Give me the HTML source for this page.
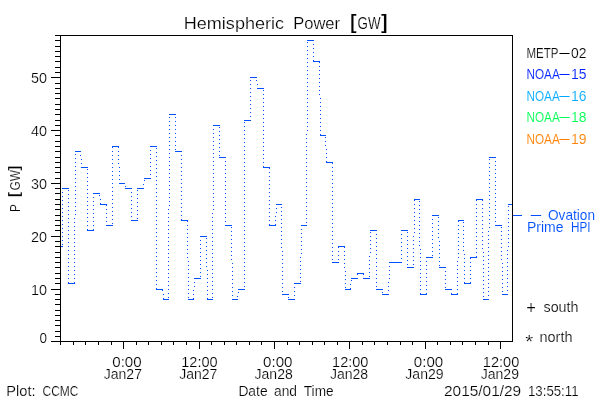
<!DOCTYPE html>
<html><head><meta charset="utf-8"><title>Hemispheric Power [GW]</title>
<style>
html,body{margin:0;padding:0;background:#fff;}
svg{display:block;will-change:transform;}
text{font-family:"Liberation Sans",sans-serif;stroke:#fff;stroke-width:0.2px;}
</style></head><body>
<svg width="600" height="400" viewBox="0 0 600 400" shape-rendering="crispEdges">
<rect x="0" y="0" width="600" height="400" fill="#fff"/>
<rect x="60" y="35" width="1" height="307" fill="#000"/>
<rect x="512" y="35" width="1" height="307" fill="#000"/>
<rect x="60" y="35" width="453" height="1" fill="#000"/>
<rect x="60" y="341" width="453" height="1" fill="#000"/>
<rect x="51" y="341" width="10" height="1" fill="#000"/>
<rect x="55" y="336" width="6" height="1" fill="#000"/>
<rect x="55" y="331" width="6" height="1" fill="#000"/>
<rect x="55" y="325" width="6" height="1" fill="#000"/>
<rect x="55" y="320" width="6" height="1" fill="#000"/>
<rect x="55" y="315" width="6" height="1" fill="#000"/>
<rect x="55" y="310" width="6" height="1" fill="#000"/>
<rect x="55" y="304" width="6" height="1" fill="#000"/>
<rect x="55" y="299" width="6" height="1" fill="#000"/>
<rect x="55" y="294" width="6" height="1" fill="#000"/>
<rect x="51" y="289" width="10" height="1" fill="#000"/>
<rect x="55" y="283" width="6" height="1" fill="#000"/>
<rect x="55" y="278" width="6" height="1" fill="#000"/>
<rect x="55" y="273" width="6" height="1" fill="#000"/>
<rect x="55" y="267" width="6" height="1" fill="#000"/>
<rect x="55" y="262" width="6" height="1" fill="#000"/>
<rect x="55" y="257" width="6" height="1" fill="#000"/>
<rect x="55" y="252" width="6" height="1" fill="#000"/>
<rect x="55" y="246" width="6" height="1" fill="#000"/>
<rect x="55" y="241" width="6" height="1" fill="#000"/>
<rect x="51" y="236" width="10" height="1" fill="#000"/>
<rect x="55" y="230" width="6" height="1" fill="#000"/>
<rect x="55" y="225" width="6" height="1" fill="#000"/>
<rect x="55" y="220" width="6" height="1" fill="#000"/>
<rect x="55" y="215" width="6" height="1" fill="#000"/>
<rect x="55" y="209" width="6" height="1" fill="#000"/>
<rect x="55" y="204" width="6" height="1" fill="#000"/>
<rect x="55" y="199" width="6" height="1" fill="#000"/>
<rect x="55" y="193" width="6" height="1" fill="#000"/>
<rect x="55" y="188" width="6" height="1" fill="#000"/>
<rect x="51" y="183" width="10" height="1" fill="#000"/>
<rect x="55" y="178" width="6" height="1" fill="#000"/>
<rect x="55" y="172" width="6" height="1" fill="#000"/>
<rect x="55" y="167" width="6" height="1" fill="#000"/>
<rect x="55" y="162" width="6" height="1" fill="#000"/>
<rect x="55" y="157" width="6" height="1" fill="#000"/>
<rect x="55" y="151" width="6" height="1" fill="#000"/>
<rect x="55" y="146" width="6" height="1" fill="#000"/>
<rect x="55" y="141" width="6" height="1" fill="#000"/>
<rect x="55" y="135" width="6" height="1" fill="#000"/>
<rect x="51" y="130" width="10" height="1" fill="#000"/>
<rect x="55" y="125" width="6" height="1" fill="#000"/>
<rect x="55" y="120" width="6" height="1" fill="#000"/>
<rect x="55" y="114" width="6" height="1" fill="#000"/>
<rect x="55" y="109" width="6" height="1" fill="#000"/>
<rect x="55" y="104" width="6" height="1" fill="#000"/>
<rect x="55" y="98" width="6" height="1" fill="#000"/>
<rect x="55" y="93" width="6" height="1" fill="#000"/>
<rect x="55" y="88" width="6" height="1" fill="#000"/>
<rect x="55" y="83" width="6" height="1" fill="#000"/>
<rect x="51" y="77" width="10" height="1" fill="#000"/>
<rect x="55" y="72" width="6" height="1" fill="#000"/>
<rect x="55" y="67" width="6" height="1" fill="#000"/>
<rect x="55" y="61" width="6" height="1" fill="#000"/>
<rect x="55" y="56" width="6" height="1" fill="#000"/>
<rect x="55" y="51" width="6" height="1" fill="#000"/>
<rect x="55" y="46" width="6" height="1" fill="#000"/>
<rect x="55" y="40" width="6" height="1" fill="#000"/>
<rect x="55" y="35" width="6" height="1" fill="#000"/>
<rect x="60" y="341" width="1" height="4" fill="#000"/>
<rect x="73" y="341" width="1" height="4" fill="#000"/>
<rect x="85" y="341" width="1" height="4" fill="#000"/>
<rect x="98" y="341" width="1" height="4" fill="#000"/>
<rect x="111" y="341" width="1" height="4" fill="#000"/>
<rect x="123" y="341" width="1" height="8" fill="#000"/>
<rect x="136" y="341" width="1" height="4" fill="#000"/>
<rect x="148" y="341" width="1" height="4" fill="#000"/>
<rect x="161" y="341" width="1" height="4" fill="#000"/>
<rect x="173" y="341" width="1" height="4" fill="#000"/>
<rect x="186" y="341" width="1" height="4" fill="#000"/>
<rect x="199" y="341" width="1" height="8" fill="#000"/>
<rect x="211" y="341" width="1" height="4" fill="#000"/>
<rect x="224" y="341" width="1" height="4" fill="#000"/>
<rect x="236" y="341" width="1" height="4" fill="#000"/>
<rect x="249" y="341" width="1" height="4" fill="#000"/>
<rect x="261" y="341" width="1" height="4" fill="#000"/>
<rect x="274" y="341" width="1" height="8" fill="#000"/>
<rect x="287" y="341" width="1" height="4" fill="#000"/>
<rect x="299" y="341" width="1" height="4" fill="#000"/>
<rect x="312" y="341" width="1" height="4" fill="#000"/>
<rect x="324" y="341" width="1" height="4" fill="#000"/>
<rect x="337" y="341" width="1" height="4" fill="#000"/>
<rect x="349" y="341" width="1" height="8" fill="#000"/>
<rect x="362" y="341" width="1" height="4" fill="#000"/>
<rect x="374" y="341" width="1" height="4" fill="#000"/>
<rect x="387" y="341" width="1" height="4" fill="#000"/>
<rect x="400" y="341" width="1" height="4" fill="#000"/>
<rect x="412" y="341" width="1" height="4" fill="#000"/>
<rect x="425" y="341" width="1" height="8" fill="#000"/>
<rect x="437" y="341" width="1" height="4" fill="#000"/>
<rect x="450" y="341" width="1" height="4" fill="#000"/>
<rect x="462" y="341" width="1" height="4" fill="#000"/>
<rect x="475" y="341" width="1" height="4" fill="#000"/>
<rect x="488" y="341" width="1" height="4" fill="#000"/>
<rect x="500" y="341" width="1" height="8" fill="#000"/>
<g fill="#0050ff"><rect x="61" y="246" width="2" height="1"/><rect x="62" y="188" width="7" height="1"/><rect x="68" y="283" width="7" height="1"/><rect x="75" y="151" width="6" height="1"/><rect x="81" y="167" width="7" height="1"/><rect x="87" y="230" width="7" height="1"/><rect x="93" y="193" width="7" height="1"/><rect x="100" y="204" width="7" height="1"/><rect x="106" y="225" width="7" height="1"/><rect x="112" y="146" width="7" height="1"/><rect x="119" y="183" width="6" height="1"/><rect x="125" y="188" width="7" height="1"/><rect x="131" y="220" width="7" height="1"/><rect x="137" y="188" width="7" height="1"/><rect x="144" y="178" width="7" height="1"/><rect x="150" y="146" width="7" height="1"/><rect x="156" y="289" width="7" height="1"/><rect x="163" y="299" width="6" height="1"/><rect x="169" y="114" width="7" height="1"/><rect x="175" y="151" width="7" height="1"/><rect x="181" y="220" width="7" height="1"/><rect x="188" y="299" width="6" height="1"/><rect x="194" y="278" width="7" height="1"/><rect x="200" y="236" width="7" height="1"/><rect x="207" y="299" width="6" height="1"/><rect x="213" y="125" width="7" height="1"/><rect x="219" y="157" width="7" height="1"/><rect x="225" y="225" width="7" height="1"/><rect x="232" y="299" width="6" height="1"/><rect x="238" y="289" width="7" height="1"/><rect x="244" y="120" width="7" height="1"/><rect x="250" y="77" width="7" height="1"/><rect x="257" y="88" width="7" height="1"/><rect x="263" y="167" width="7" height="1"/><rect x="269" y="225" width="7" height="1"/><rect x="276" y="204" width="6" height="1"/><rect x="282" y="294" width="7" height="1"/><rect x="288" y="299" width="7" height="1"/><rect x="294" y="283" width="7" height="1"/><rect x="301" y="225" width="6" height="1"/><rect x="307" y="40" width="7" height="1"/><rect x="313" y="61" width="7" height="1"/><rect x="320" y="135" width="6" height="1"/><rect x="326" y="162" width="7" height="1"/><rect x="332" y="262" width="7" height="1"/><rect x="338" y="246" width="7" height="1"/><rect x="345" y="289" width="6" height="1"/><rect x="351" y="278" width="7" height="1"/><rect x="357" y="273" width="7" height="1"/><rect x="363" y="278" width="7" height="1"/><rect x="370" y="230" width="7" height="1"/><rect x="376" y="289" width="7" height="1"/><rect x="382" y="294" width="7" height="1"/><rect x="389" y="262" width="6" height="1"/><rect x="395" y="262" width="7" height="1"/><rect x="401" y="230" width="7" height="1"/><rect x="407" y="267" width="7" height="1"/><rect x="414" y="199" width="6" height="1"/><rect x="420" y="294" width="7" height="1"/><rect x="426" y="257" width="7" height="1"/><rect x="432" y="215" width="7" height="1"/><rect x="439" y="267" width="7" height="1"/><rect x="445" y="289" width="7" height="1"/><rect x="451" y="294" width="7" height="1"/><rect x="458" y="220" width="6" height="1"/><rect x="464" y="283" width="7" height="1"/><rect x="470" y="257" width="7" height="1"/><rect x="476" y="199" width="7" height="1"/><rect x="483" y="299" width="6" height="1"/><rect x="489" y="157" width="7" height="1"/><rect x="495" y="225" width="7" height="1"/><rect x="502" y="294" width="6" height="1"/><rect x="508" y="204" width="4" height="1"/><rect x="62" y="192" width="1" height="1"/><rect x="62" y="196" width="1" height="1"/><rect x="62" y="200" width="1" height="1"/><rect x="62" y="204" width="1" height="1"/><rect x="62" y="208" width="1" height="1"/><rect x="62" y="212" width="1" height="1"/><rect x="62" y="216" width="1" height="1"/><rect x="62" y="220" width="1" height="1"/><rect x="62" y="224" width="1" height="1"/><rect x="62" y="228" width="1" height="1"/><rect x="62" y="232" width="1" height="1"/><rect x="62" y="236" width="1" height="1"/><rect x="62" y="240" width="1" height="1"/><rect x="62" y="244" width="1" height="1"/><rect x="68" y="190" width="1" height="1"/><rect x="68" y="194" width="1" height="1"/><rect x="68" y="198" width="1" height="1"/><rect x="68" y="202" width="1" height="1"/><rect x="68" y="206" width="1" height="1"/><rect x="68" y="210" width="1" height="1"/><rect x="68" y="214" width="1" height="1"/><rect x="68" y="218" width="1" height="1"/><rect x="68" y="222" width="1" height="1"/><rect x="68" y="226" width="1" height="1"/><rect x="68" y="230" width="1" height="1"/><rect x="68" y="234" width="1" height="1"/><rect x="68" y="238" width="1" height="1"/><rect x="68" y="242" width="1" height="1"/><rect x="68" y="246" width="1" height="1"/><rect x="68" y="250" width="1" height="1"/><rect x="68" y="254" width="1" height="1"/><rect x="68" y="258" width="1" height="1"/><rect x="68" y="262" width="1" height="1"/><rect x="68" y="266" width="1" height="1"/><rect x="68" y="270" width="1" height="1"/><rect x="68" y="274" width="1" height="1"/><rect x="68" y="278" width="1" height="1"/><rect x="68" y="282" width="1" height="1"/><rect x="74" y="218" width="1" height="1"/><rect x="74" y="222" width="1" height="1"/><rect x="74" y="226" width="1" height="1"/><rect x="74" y="230" width="1" height="1"/><rect x="74" y="234" width="1" height="1"/><rect x="74" y="238" width="1" height="1"/><rect x="74" y="242" width="1" height="1"/><rect x="74" y="246" width="1" height="1"/><rect x="74" y="250" width="1" height="1"/><rect x="74" y="254" width="1" height="1"/><rect x="74" y="258" width="1" height="1"/><rect x="74" y="262" width="1" height="1"/><rect x="74" y="266" width="1" height="1"/><rect x="74" y="270" width="1" height="1"/><rect x="74" y="274" width="1" height="1"/><rect x="74" y="278" width="1" height="1"/><rect x="74" y="282" width="1" height="1"/><rect x="75" y="154" width="1" height="1"/><rect x="75" y="158" width="1" height="1"/><rect x="75" y="162" width="1" height="1"/><rect x="75" y="166" width="1" height="1"/><rect x="75" y="170" width="1" height="1"/><rect x="75" y="174" width="1" height="1"/><rect x="75" y="178" width="1" height="1"/><rect x="75" y="182" width="1" height="1"/><rect x="75" y="186" width="1" height="1"/><rect x="75" y="190" width="1" height="1"/><rect x="75" y="194" width="1" height="1"/><rect x="75" y="198" width="1" height="1"/><rect x="75" y="202" width="1" height="1"/><rect x="75" y="206" width="1" height="1"/><rect x="75" y="210" width="1" height="1"/><rect x="75" y="214" width="1" height="1"/><rect x="80" y="155" width="1" height="1"/><rect x="81" y="159" width="1" height="1"/><rect x="81" y="163" width="1" height="1"/><rect x="87" y="169" width="1" height="1"/><rect x="87" y="173" width="1" height="1"/><rect x="87" y="177" width="1" height="1"/><rect x="87" y="181" width="1" height="1"/><rect x="87" y="185" width="1" height="1"/><rect x="87" y="189" width="1" height="1"/><rect x="87" y="193" width="1" height="1"/><rect x="87" y="197" width="1" height="1"/><rect x="87" y="201" width="1" height="1"/><rect x="87" y="205" width="1" height="1"/><rect x="87" y="209" width="1" height="1"/><rect x="87" y="213" width="1" height="1"/><rect x="87" y="217" width="1" height="1"/><rect x="87" y="221" width="1" height="1"/><rect x="87" y="225" width="1" height="1"/><rect x="87" y="229" width="1" height="1"/><rect x="93" y="197" width="1" height="1"/><rect x="93" y="201" width="1" height="1"/><rect x="93" y="205" width="1" height="1"/><rect x="93" y="209" width="1" height="1"/><rect x="93" y="213" width="1" height="1"/><rect x="93" y="217" width="1" height="1"/><rect x="93" y="221" width="1" height="1"/><rect x="93" y="225" width="1" height="1"/><rect x="93" y="229" width="1" height="1"/><rect x="99" y="195" width="1" height="1"/><rect x="100" y="199" width="1" height="1"/><rect x="100" y="203" width="1" height="1"/><rect x="106" y="205" width="1" height="1"/><rect x="106" y="209" width="1" height="1"/><rect x="106" y="213" width="1" height="1"/><rect x="106" y="217" width="1" height="1"/><rect x="106" y="221" width="1" height="1"/><rect x="112" y="147" width="1" height="1"/><rect x="112" y="151" width="1" height="1"/><rect x="112" y="155" width="1" height="1"/><rect x="112" y="159" width="1" height="1"/><rect x="112" y="163" width="1" height="1"/><rect x="112" y="167" width="1" height="1"/><rect x="112" y="171" width="1" height="1"/><rect x="112" y="175" width="1" height="1"/><rect x="112" y="179" width="1" height="1"/><rect x="112" y="183" width="1" height="1"/><rect x="112" y="187" width="1" height="1"/><rect x="112" y="191" width="1" height="1"/><rect x="112" y="195" width="1" height="1"/><rect x="112" y="199" width="1" height="1"/><rect x="112" y="203" width="1" height="1"/><rect x="112" y="207" width="1" height="1"/><rect x="112" y="211" width="1" height="1"/><rect x="112" y="215" width="1" height="1"/><rect x="112" y="219" width="1" height="1"/><rect x="112" y="223" width="1" height="1"/><rect x="118" y="147" width="1" height="1"/><rect x="118" y="151" width="1" height="1"/><rect x="118" y="155" width="1" height="1"/><rect x="118" y="159" width="1" height="1"/><rect x="118" y="163" width="1" height="1"/><rect x="119" y="167" width="1" height="1"/><rect x="119" y="171" width="1" height="1"/><rect x="119" y="175" width="1" height="1"/><rect x="119" y="179" width="1" height="1"/><rect x="125" y="186" width="1" height="1"/><rect x="131" y="192" width="1" height="1"/><rect x="131" y="196" width="1" height="1"/><rect x="131" y="200" width="1" height="1"/><rect x="131" y="204" width="1" height="1"/><rect x="131" y="208" width="1" height="1"/><rect x="131" y="212" width="1" height="1"/><rect x="131" y="216" width="1" height="1"/><rect x="137" y="190" width="1" height="1"/><rect x="137" y="194" width="1" height="1"/><rect x="137" y="198" width="1" height="1"/><rect x="137" y="202" width="1" height="1"/><rect x="137" y="206" width="1" height="1"/><rect x="137" y="210" width="1" height="1"/><rect x="137" y="214" width="1" height="1"/><rect x="137" y="218" width="1" height="1"/><rect x="143" y="184" width="1" height="1"/><rect x="144" y="180" width="1" height="1"/><rect x="150" y="150" width="1" height="1"/><rect x="150" y="154" width="1" height="1"/><rect x="150" y="158" width="1" height="1"/><rect x="150" y="162" width="1" height="1"/><rect x="150" y="166" width="1" height="1"/><rect x="150" y="170" width="1" height="1"/><rect x="150" y="174" width="1" height="1"/><rect x="156" y="148" width="1" height="1"/><rect x="156" y="152" width="1" height="1"/><rect x="156" y="156" width="1" height="1"/><rect x="156" y="160" width="1" height="1"/><rect x="156" y="164" width="1" height="1"/><rect x="156" y="168" width="1" height="1"/><rect x="156" y="172" width="1" height="1"/><rect x="156" y="176" width="1" height="1"/><rect x="156" y="180" width="1" height="1"/><rect x="156" y="184" width="1" height="1"/><rect x="156" y="188" width="1" height="1"/><rect x="156" y="192" width="1" height="1"/><rect x="156" y="196" width="1" height="1"/><rect x="156" y="200" width="1" height="1"/><rect x="156" y="204" width="1" height="1"/><rect x="156" y="208" width="1" height="1"/><rect x="156" y="212" width="1" height="1"/><rect x="156" y="216" width="1" height="1"/><rect x="156" y="220" width="1" height="1"/><rect x="156" y="224" width="1" height="1"/><rect x="156" y="228" width="1" height="1"/><rect x="156" y="232" width="1" height="1"/><rect x="156" y="236" width="1" height="1"/><rect x="156" y="240" width="1" height="1"/><rect x="156" y="244" width="1" height="1"/><rect x="156" y="248" width="1" height="1"/><rect x="156" y="252" width="1" height="1"/><rect x="156" y="256" width="1" height="1"/><rect x="156" y="260" width="1" height="1"/><rect x="156" y="264" width="1" height="1"/><rect x="156" y="268" width="1" height="1"/><rect x="156" y="272" width="1" height="1"/><rect x="156" y="276" width="1" height="1"/><rect x="156" y="280" width="1" height="1"/><rect x="156" y="284" width="1" height="1"/><rect x="156" y="288" width="1" height="1"/><rect x="162" y="290" width="1" height="1"/><rect x="163" y="294" width="1" height="1"/><rect x="163" y="298" width="1" height="1"/><rect x="168" y="209" width="1" height="1"/><rect x="168" y="213" width="1" height="1"/><rect x="168" y="217" width="1" height="1"/><rect x="168" y="221" width="1" height="1"/><rect x="168" y="225" width="1" height="1"/><rect x="168" y="229" width="1" height="1"/><rect x="168" y="233" width="1" height="1"/><rect x="168" y="237" width="1" height="1"/><rect x="168" y="241" width="1" height="1"/><rect x="168" y="245" width="1" height="1"/><rect x="168" y="249" width="1" height="1"/><rect x="168" y="253" width="1" height="1"/><rect x="168" y="257" width="1" height="1"/><rect x="168" y="261" width="1" height="1"/><rect x="168" y="265" width="1" height="1"/><rect x="168" y="269" width="1" height="1"/><rect x="168" y="273" width="1" height="1"/><rect x="168" y="277" width="1" height="1"/><rect x="168" y="281" width="1" height="1"/><rect x="168" y="285" width="1" height="1"/><rect x="168" y="289" width="1" height="1"/><rect x="168" y="293" width="1" height="1"/><rect x="168" y="297" width="1" height="1"/><rect x="169" y="117" width="1" height="1"/><rect x="169" y="121" width="1" height="1"/><rect x="169" y="125" width="1" height="1"/><rect x="169" y="129" width="1" height="1"/><rect x="169" y="133" width="1" height="1"/><rect x="169" y="137" width="1" height="1"/><rect x="169" y="141" width="1" height="1"/><rect x="169" y="145" width="1" height="1"/><rect x="169" y="149" width="1" height="1"/><rect x="169" y="153" width="1" height="1"/><rect x="169" y="157" width="1" height="1"/><rect x="169" y="161" width="1" height="1"/><rect x="169" y="165" width="1" height="1"/><rect x="169" y="169" width="1" height="1"/><rect x="169" y="173" width="1" height="1"/><rect x="169" y="177" width="1" height="1"/><rect x="169" y="181" width="1" height="1"/><rect x="169" y="185" width="1" height="1"/><rect x="169" y="189" width="1" height="1"/><rect x="169" y="193" width="1" height="1"/><rect x="169" y="197" width="1" height="1"/><rect x="169" y="201" width="1" height="1"/><rect x="169" y="205" width="1" height="1"/><rect x="175" y="117" width="1" height="1"/><rect x="175" y="121" width="1" height="1"/><rect x="175" y="125" width="1" height="1"/><rect x="175" y="129" width="1" height="1"/><rect x="175" y="133" width="1" height="1"/><rect x="175" y="137" width="1" height="1"/><rect x="175" y="141" width="1" height="1"/><rect x="175" y="145" width="1" height="1"/><rect x="175" y="149" width="1" height="1"/><rect x="181" y="155" width="1" height="1"/><rect x="181" y="159" width="1" height="1"/><rect x="181" y="163" width="1" height="1"/><rect x="181" y="167" width="1" height="1"/><rect x="181" y="171" width="1" height="1"/><rect x="181" y="175" width="1" height="1"/><rect x="181" y="179" width="1" height="1"/><rect x="181" y="183" width="1" height="1"/><rect x="181" y="187" width="1" height="1"/><rect x="181" y="191" width="1" height="1"/><rect x="181" y="195" width="1" height="1"/><rect x="181" y="199" width="1" height="1"/><rect x="181" y="203" width="1" height="1"/><rect x="181" y="207" width="1" height="1"/><rect x="181" y="211" width="1" height="1"/><rect x="181" y="215" width="1" height="1"/><rect x="181" y="219" width="1" height="1"/><rect x="187" y="221" width="1" height="1"/><rect x="187" y="225" width="1" height="1"/><rect x="187" y="229" width="1" height="1"/><rect x="187" y="233" width="1" height="1"/><rect x="187" y="237" width="1" height="1"/><rect x="187" y="241" width="1" height="1"/><rect x="187" y="245" width="1" height="1"/><rect x="187" y="249" width="1" height="1"/><rect x="187" y="253" width="1" height="1"/><rect x="187" y="257" width="1" height="1"/><rect x="188" y="261" width="1" height="1"/><rect x="188" y="265" width="1" height="1"/><rect x="188" y="269" width="1" height="1"/><rect x="188" y="273" width="1" height="1"/><rect x="188" y="277" width="1" height="1"/><rect x="188" y="281" width="1" height="1"/><rect x="188" y="285" width="1" height="1"/><rect x="188" y="289" width="1" height="1"/><rect x="188" y="293" width="1" height="1"/><rect x="188" y="297" width="1" height="1"/><rect x="193" y="290" width="1" height="1"/><rect x="193" y="294" width="1" height="1"/><rect x="193" y="298" width="1" height="1"/><rect x="194" y="282" width="1" height="1"/><rect x="194" y="286" width="1" height="1"/><rect x="200" y="240" width="1" height="1"/><rect x="200" y="244" width="1" height="1"/><rect x="200" y="248" width="1" height="1"/><rect x="200" y="252" width="1" height="1"/><rect x="200" y="256" width="1" height="1"/><rect x="200" y="260" width="1" height="1"/><rect x="200" y="264" width="1" height="1"/><rect x="200" y="268" width="1" height="1"/><rect x="200" y="272" width="1" height="1"/><rect x="200" y="276" width="1" height="1"/><rect x="206" y="238" width="1" height="1"/><rect x="206" y="242" width="1" height="1"/><rect x="206" y="246" width="1" height="1"/><rect x="206" y="250" width="1" height="1"/><rect x="206" y="254" width="1" height="1"/><rect x="206" y="258" width="1" height="1"/><rect x="206" y="262" width="1" height="1"/><rect x="206" y="266" width="1" height="1"/><rect x="207" y="270" width="1" height="1"/><rect x="207" y="274" width="1" height="1"/><rect x="207" y="278" width="1" height="1"/><rect x="207" y="282" width="1" height="1"/><rect x="207" y="286" width="1" height="1"/><rect x="207" y="290" width="1" height="1"/><rect x="207" y="294" width="1" height="1"/><rect x="207" y="298" width="1" height="1"/><rect x="212" y="213" width="1" height="1"/><rect x="212" y="217" width="1" height="1"/><rect x="212" y="221" width="1" height="1"/><rect x="212" y="225" width="1" height="1"/><rect x="212" y="229" width="1" height="1"/><rect x="212" y="233" width="1" height="1"/><rect x="212" y="237" width="1" height="1"/><rect x="212" y="241" width="1" height="1"/><rect x="212" y="245" width="1" height="1"/><rect x="212" y="249" width="1" height="1"/><rect x="212" y="253" width="1" height="1"/><rect x="212" y="257" width="1" height="1"/><rect x="212" y="261" width="1" height="1"/><rect x="212" y="265" width="1" height="1"/><rect x="212" y="269" width="1" height="1"/><rect x="212" y="273" width="1" height="1"/><rect x="212" y="277" width="1" height="1"/><rect x="212" y="281" width="1" height="1"/><rect x="212" y="285" width="1" height="1"/><rect x="212" y="289" width="1" height="1"/><rect x="212" y="293" width="1" height="1"/><rect x="212" y="297" width="1" height="1"/><rect x="213" y="129" width="1" height="1"/><rect x="213" y="133" width="1" height="1"/><rect x="213" y="137" width="1" height="1"/><rect x="213" y="141" width="1" height="1"/><rect x="213" y="145" width="1" height="1"/><rect x="213" y="149" width="1" height="1"/><rect x="213" y="153" width="1" height="1"/><rect x="213" y="157" width="1" height="1"/><rect x="213" y="161" width="1" height="1"/><rect x="213" y="165" width="1" height="1"/><rect x="213" y="169" width="1" height="1"/><rect x="213" y="173" width="1" height="1"/><rect x="213" y="177" width="1" height="1"/><rect x="213" y="181" width="1" height="1"/><rect x="213" y="185" width="1" height="1"/><rect x="213" y="189" width="1" height="1"/><rect x="213" y="193" width="1" height="1"/><rect x="213" y="197" width="1" height="1"/><rect x="213" y="201" width="1" height="1"/><rect x="213" y="205" width="1" height="1"/><rect x="213" y="209" width="1" height="1"/><rect x="219" y="127" width="1" height="1"/><rect x="219" y="131" width="1" height="1"/><rect x="219" y="135" width="1" height="1"/><rect x="219" y="139" width="1" height="1"/><rect x="219" y="143" width="1" height="1"/><rect x="219" y="147" width="1" height="1"/><rect x="219" y="151" width="1" height="1"/><rect x="219" y="155" width="1" height="1"/><rect x="225" y="161" width="1" height="1"/><rect x="225" y="165" width="1" height="1"/><rect x="225" y="169" width="1" height="1"/><rect x="225" y="173" width="1" height="1"/><rect x="225" y="177" width="1" height="1"/><rect x="225" y="181" width="1" height="1"/><rect x="225" y="185" width="1" height="1"/><rect x="225" y="189" width="1" height="1"/><rect x="225" y="193" width="1" height="1"/><rect x="225" y="197" width="1" height="1"/><rect x="225" y="201" width="1" height="1"/><rect x="225" y="205" width="1" height="1"/><rect x="225" y="209" width="1" height="1"/><rect x="225" y="213" width="1" height="1"/><rect x="225" y="217" width="1" height="1"/><rect x="225" y="221" width="1" height="1"/><rect x="231" y="227" width="1" height="1"/><rect x="231" y="231" width="1" height="1"/><rect x="231" y="235" width="1" height="1"/><rect x="231" y="239" width="1" height="1"/><rect x="231" y="243" width="1" height="1"/><rect x="231" y="247" width="1" height="1"/><rect x="231" y="251" width="1" height="1"/><rect x="231" y="255" width="1" height="1"/><rect x="231" y="259" width="1" height="1"/><rect x="232" y="263" width="1" height="1"/><rect x="232" y="267" width="1" height="1"/><rect x="232" y="271" width="1" height="1"/><rect x="232" y="275" width="1" height="1"/><rect x="232" y="279" width="1" height="1"/><rect x="232" y="283" width="1" height="1"/><rect x="232" y="287" width="1" height="1"/><rect x="232" y="291" width="1" height="1"/><rect x="232" y="295" width="1" height="1"/><rect x="237" y="296" width="1" height="1"/><rect x="238" y="292" width="1" height="1"/><rect x="244" y="122" width="1" height="1"/><rect x="244" y="126" width="1" height="1"/><rect x="244" y="130" width="1" height="1"/><rect x="244" y="134" width="1" height="1"/><rect x="244" y="138" width="1" height="1"/><rect x="244" y="142" width="1" height="1"/><rect x="244" y="146" width="1" height="1"/><rect x="244" y="150" width="1" height="1"/><rect x="244" y="154" width="1" height="1"/><rect x="244" y="158" width="1" height="1"/><rect x="244" y="162" width="1" height="1"/><rect x="244" y="166" width="1" height="1"/><rect x="244" y="170" width="1" height="1"/><rect x="244" y="174" width="1" height="1"/><rect x="244" y="178" width="1" height="1"/><rect x="244" y="182" width="1" height="1"/><rect x="244" y="186" width="1" height="1"/><rect x="244" y="190" width="1" height="1"/><rect x="244" y="194" width="1" height="1"/><rect x="244" y="198" width="1" height="1"/><rect x="244" y="202" width="1" height="1"/><rect x="244" y="206" width="1" height="1"/><rect x="244" y="210" width="1" height="1"/><rect x="244" y="214" width="1" height="1"/><rect x="244" y="218" width="1" height="1"/><rect x="244" y="222" width="1" height="1"/><rect x="244" y="226" width="1" height="1"/><rect x="244" y="230" width="1" height="1"/><rect x="244" y="234" width="1" height="1"/><rect x="244" y="238" width="1" height="1"/><rect x="244" y="242" width="1" height="1"/><rect x="244" y="246" width="1" height="1"/><rect x="244" y="250" width="1" height="1"/><rect x="244" y="254" width="1" height="1"/><rect x="244" y="258" width="1" height="1"/><rect x="244" y="262" width="1" height="1"/><rect x="244" y="266" width="1" height="1"/><rect x="244" y="270" width="1" height="1"/><rect x="244" y="274" width="1" height="1"/><rect x="244" y="278" width="1" height="1"/><rect x="244" y="282" width="1" height="1"/><rect x="244" y="286" width="1" height="1"/><rect x="250" y="80" width="1" height="1"/><rect x="250" y="84" width="1" height="1"/><rect x="250" y="88" width="1" height="1"/><rect x="250" y="92" width="1" height="1"/><rect x="250" y="96" width="1" height="1"/><rect x="250" y="100" width="1" height="1"/><rect x="250" y="104" width="1" height="1"/><rect x="250" y="108" width="1" height="1"/><rect x="250" y="112" width="1" height="1"/><rect x="250" y="116" width="1" height="1"/><rect x="256" y="80" width="1" height="1"/><rect x="257" y="84" width="1" height="1"/><rect x="263" y="90" width="1" height="1"/><rect x="263" y="94" width="1" height="1"/><rect x="263" y="98" width="1" height="1"/><rect x="263" y="102" width="1" height="1"/><rect x="263" y="106" width="1" height="1"/><rect x="263" y="110" width="1" height="1"/><rect x="263" y="114" width="1" height="1"/><rect x="263" y="118" width="1" height="1"/><rect x="263" y="122" width="1" height="1"/><rect x="263" y="126" width="1" height="1"/><rect x="263" y="130" width="1" height="1"/><rect x="263" y="134" width="1" height="1"/><rect x="263" y="138" width="1" height="1"/><rect x="263" y="142" width="1" height="1"/><rect x="263" y="146" width="1" height="1"/><rect x="263" y="150" width="1" height="1"/><rect x="263" y="154" width="1" height="1"/><rect x="263" y="158" width="1" height="1"/><rect x="263" y="162" width="1" height="1"/><rect x="263" y="166" width="1" height="1"/><rect x="269" y="168" width="1" height="1"/><rect x="269" y="172" width="1" height="1"/><rect x="269" y="176" width="1" height="1"/><rect x="269" y="180" width="1" height="1"/><rect x="269" y="184" width="1" height="1"/><rect x="269" y="188" width="1" height="1"/><rect x="269" y="192" width="1" height="1"/><rect x="269" y="196" width="1" height="1"/><rect x="269" y="200" width="1" height="1"/><rect x="269" y="204" width="1" height="1"/><rect x="269" y="208" width="1" height="1"/><rect x="269" y="212" width="1" height="1"/><rect x="269" y="216" width="1" height="1"/><rect x="269" y="220" width="1" height="1"/><rect x="269" y="224" width="1" height="1"/><rect x="275" y="216" width="1" height="1"/><rect x="275" y="220" width="1" height="1"/><rect x="275" y="224" width="1" height="1"/><rect x="276" y="208" width="1" height="1"/><rect x="276" y="212" width="1" height="1"/><rect x="281" y="207" width="1" height="1"/><rect x="281" y="211" width="1" height="1"/><rect x="281" y="215" width="1" height="1"/><rect x="281" y="219" width="1" height="1"/><rect x="281" y="223" width="1" height="1"/><rect x="281" y="227" width="1" height="1"/><rect x="281" y="231" width="1" height="1"/><rect x="281" y="235" width="1" height="1"/><rect x="281" y="239" width="1" height="1"/><rect x="281" y="243" width="1" height="1"/><rect x="281" y="247" width="1" height="1"/><rect x="282" y="251" width="1" height="1"/><rect x="282" y="255" width="1" height="1"/><rect x="282" y="259" width="1" height="1"/><rect x="282" y="263" width="1" height="1"/><rect x="282" y="267" width="1" height="1"/><rect x="282" y="271" width="1" height="1"/><rect x="282" y="275" width="1" height="1"/><rect x="282" y="279" width="1" height="1"/><rect x="282" y="283" width="1" height="1"/><rect x="282" y="287" width="1" height="1"/><rect x="282" y="291" width="1" height="1"/><rect x="288" y="297" width="1" height="1"/><rect x="294" y="287" width="1" height="1"/><rect x="294" y="291" width="1" height="1"/><rect x="294" y="295" width="1" height="1"/><rect x="300" y="257" width="1" height="1"/><rect x="300" y="261" width="1" height="1"/><rect x="300" y="265" width="1" height="1"/><rect x="300" y="269" width="1" height="1"/><rect x="300" y="273" width="1" height="1"/><rect x="300" y="277" width="1" height="1"/><rect x="300" y="281" width="1" height="1"/><rect x="301" y="229" width="1" height="1"/><rect x="301" y="233" width="1" height="1"/><rect x="301" y="237" width="1" height="1"/><rect x="301" y="241" width="1" height="1"/><rect x="301" y="245" width="1" height="1"/><rect x="301" y="249" width="1" height="1"/><rect x="301" y="253" width="1" height="1"/><rect x="306" y="134" width="1" height="1"/><rect x="306" y="138" width="1" height="1"/><rect x="306" y="142" width="1" height="1"/><rect x="306" y="146" width="1" height="1"/><rect x="306" y="150" width="1" height="1"/><rect x="306" y="154" width="1" height="1"/><rect x="306" y="158" width="1" height="1"/><rect x="306" y="162" width="1" height="1"/><rect x="306" y="166" width="1" height="1"/><rect x="306" y="170" width="1" height="1"/><rect x="306" y="174" width="1" height="1"/><rect x="306" y="178" width="1" height="1"/><rect x="306" y="182" width="1" height="1"/><rect x="306" y="186" width="1" height="1"/><rect x="306" y="190" width="1" height="1"/><rect x="306" y="194" width="1" height="1"/><rect x="306" y="198" width="1" height="1"/><rect x="306" y="202" width="1" height="1"/><rect x="306" y="206" width="1" height="1"/><rect x="306" y="210" width="1" height="1"/><rect x="306" y="214" width="1" height="1"/><rect x="306" y="218" width="1" height="1"/><rect x="306" y="222" width="1" height="1"/><rect x="307" y="42" width="1" height="1"/><rect x="307" y="46" width="1" height="1"/><rect x="307" y="50" width="1" height="1"/><rect x="307" y="54" width="1" height="1"/><rect x="307" y="58" width="1" height="1"/><rect x="307" y="62" width="1" height="1"/><rect x="307" y="66" width="1" height="1"/><rect x="307" y="70" width="1" height="1"/><rect x="307" y="74" width="1" height="1"/><rect x="307" y="78" width="1" height="1"/><rect x="307" y="82" width="1" height="1"/><rect x="307" y="86" width="1" height="1"/><rect x="307" y="90" width="1" height="1"/><rect x="307" y="94" width="1" height="1"/><rect x="307" y="98" width="1" height="1"/><rect x="307" y="102" width="1" height="1"/><rect x="307" y="106" width="1" height="1"/><rect x="307" y="110" width="1" height="1"/><rect x="307" y="114" width="1" height="1"/><rect x="307" y="118" width="1" height="1"/><rect x="307" y="122" width="1" height="1"/><rect x="307" y="126" width="1" height="1"/><rect x="307" y="130" width="1" height="1"/><rect x="313" y="44" width="1" height="1"/><rect x="313" y="48" width="1" height="1"/><rect x="313" y="52" width="1" height="1"/><rect x="313" y="56" width="1" height="1"/><rect x="313" y="60" width="1" height="1"/><rect x="319" y="62" width="1" height="1"/><rect x="319" y="66" width="1" height="1"/><rect x="319" y="70" width="1" height="1"/><rect x="319" y="74" width="1" height="1"/><rect x="319" y="78" width="1" height="1"/><rect x="319" y="82" width="1" height="1"/><rect x="319" y="86" width="1" height="1"/><rect x="319" y="90" width="1" height="1"/><rect x="319" y="94" width="1" height="1"/><rect x="320" y="98" width="1" height="1"/><rect x="320" y="102" width="1" height="1"/><rect x="320" y="106" width="1" height="1"/><rect x="320" y="110" width="1" height="1"/><rect x="320" y="114" width="1" height="1"/><rect x="320" y="118" width="1" height="1"/><rect x="320" y="122" width="1" height="1"/><rect x="320" y="126" width="1" height="1"/><rect x="320" y="130" width="1" height="1"/><rect x="320" y="134" width="1" height="1"/><rect x="325" y="137" width="1" height="1"/><rect x="325" y="141" width="1" height="1"/><rect x="325" y="145" width="1" height="1"/><rect x="326" y="149" width="1" height="1"/><rect x="326" y="153" width="1" height="1"/><rect x="326" y="157" width="1" height="1"/><rect x="326" y="161" width="1" height="1"/><rect x="332" y="163" width="1" height="1"/><rect x="332" y="167" width="1" height="1"/><rect x="332" y="171" width="1" height="1"/><rect x="332" y="175" width="1" height="1"/><rect x="332" y="179" width="1" height="1"/><rect x="332" y="183" width="1" height="1"/><rect x="332" y="187" width="1" height="1"/><rect x="332" y="191" width="1" height="1"/><rect x="332" y="195" width="1" height="1"/><rect x="332" y="199" width="1" height="1"/><rect x="332" y="203" width="1" height="1"/><rect x="332" y="207" width="1" height="1"/><rect x="332" y="211" width="1" height="1"/><rect x="332" y="215" width="1" height="1"/><rect x="332" y="219" width="1" height="1"/><rect x="332" y="223" width="1" height="1"/><rect x="332" y="227" width="1" height="1"/><rect x="332" y="231" width="1" height="1"/><rect x="332" y="235" width="1" height="1"/><rect x="332" y="239" width="1" height="1"/><rect x="332" y="243" width="1" height="1"/><rect x="332" y="247" width="1" height="1"/><rect x="332" y="251" width="1" height="1"/><rect x="332" y="255" width="1" height="1"/><rect x="332" y="259" width="1" height="1"/><rect x="338" y="247" width="1" height="1"/><rect x="338" y="251" width="1" height="1"/><rect x="338" y="255" width="1" height="1"/><rect x="338" y="259" width="1" height="1"/><rect x="344" y="247" width="1" height="1"/><rect x="344" y="251" width="1" height="1"/><rect x="344" y="255" width="1" height="1"/><rect x="344" y="259" width="1" height="1"/><rect x="344" y="263" width="1" height="1"/><rect x="344" y="267" width="1" height="1"/><rect x="345" y="271" width="1" height="1"/><rect x="345" y="275" width="1" height="1"/><rect x="345" y="279" width="1" height="1"/><rect x="345" y="283" width="1" height="1"/><rect x="345" y="287" width="1" height="1"/><rect x="350" y="284" width="1" height="1"/><rect x="350" y="288" width="1" height="1"/><rect x="351" y="280" width="1" height="1"/><rect x="357" y="274" width="1" height="1"/><rect x="363" y="274" width="1" height="1"/><rect x="369" y="256" width="1" height="1"/><rect x="369" y="260" width="1" height="1"/><rect x="369" y="264" width="1" height="1"/><rect x="369" y="268" width="1" height="1"/><rect x="369" y="272" width="1" height="1"/><rect x="369" y="276" width="1" height="1"/><rect x="370" y="232" width="1" height="1"/><rect x="370" y="236" width="1" height="1"/><rect x="370" y="240" width="1" height="1"/><rect x="370" y="244" width="1" height="1"/><rect x="370" y="248" width="1" height="1"/><rect x="370" y="252" width="1" height="1"/><rect x="376" y="234" width="1" height="1"/><rect x="376" y="238" width="1" height="1"/><rect x="376" y="242" width="1" height="1"/><rect x="376" y="246" width="1" height="1"/><rect x="376" y="250" width="1" height="1"/><rect x="376" y="254" width="1" height="1"/><rect x="376" y="258" width="1" height="1"/><rect x="376" y="262" width="1" height="1"/><rect x="376" y="266" width="1" height="1"/><rect x="376" y="270" width="1" height="1"/><rect x="376" y="274" width="1" height="1"/><rect x="376" y="278" width="1" height="1"/><rect x="376" y="282" width="1" height="1"/><rect x="376" y="286" width="1" height="1"/><rect x="382" y="292" width="1" height="1"/><rect x="388" y="282" width="1" height="1"/><rect x="388" y="286" width="1" height="1"/><rect x="388" y="290" width="1" height="1"/><rect x="389" y="266" width="1" height="1"/><rect x="389" y="270" width="1" height="1"/><rect x="389" y="274" width="1" height="1"/><rect x="389" y="278" width="1" height="1"/><rect x="401" y="234" width="1" height="1"/><rect x="401" y="238" width="1" height="1"/><rect x="401" y="242" width="1" height="1"/><rect x="401" y="246" width="1" height="1"/><rect x="401" y="250" width="1" height="1"/><rect x="401" y="254" width="1" height="1"/><rect x="401" y="258" width="1" height="1"/><rect x="407" y="232" width="1" height="1"/><rect x="407" y="236" width="1" height="1"/><rect x="407" y="240" width="1" height="1"/><rect x="407" y="244" width="1" height="1"/><rect x="407" y="248" width="1" height="1"/><rect x="407" y="252" width="1" height="1"/><rect x="407" y="256" width="1" height="1"/><rect x="407" y="260" width="1" height="1"/><rect x="407" y="264" width="1" height="1"/><rect x="413" y="236" width="1" height="1"/><rect x="413" y="240" width="1" height="1"/><rect x="413" y="244" width="1" height="1"/><rect x="413" y="248" width="1" height="1"/><rect x="413" y="252" width="1" height="1"/><rect x="413" y="256" width="1" height="1"/><rect x="413" y="260" width="1" height="1"/><rect x="413" y="264" width="1" height="1"/><rect x="414" y="200" width="1" height="1"/><rect x="414" y="204" width="1" height="1"/><rect x="414" y="208" width="1" height="1"/><rect x="414" y="212" width="1" height="1"/><rect x="414" y="216" width="1" height="1"/><rect x="414" y="220" width="1" height="1"/><rect x="414" y="224" width="1" height="1"/><rect x="414" y="228" width="1" height="1"/><rect x="414" y="232" width="1" height="1"/><rect x="419" y="201" width="1" height="1"/><rect x="419" y="205" width="1" height="1"/><rect x="419" y="209" width="1" height="1"/><rect x="419" y="213" width="1" height="1"/><rect x="419" y="217" width="1" height="1"/><rect x="419" y="221" width="1" height="1"/><rect x="419" y="225" width="1" height="1"/><rect x="419" y="229" width="1" height="1"/><rect x="419" y="233" width="1" height="1"/><rect x="419" y="237" width="1" height="1"/><rect x="419" y="241" width="1" height="1"/><rect x="419" y="245" width="1" height="1"/><rect x="420" y="249" width="1" height="1"/><rect x="420" y="253" width="1" height="1"/><rect x="420" y="257" width="1" height="1"/><rect x="420" y="261" width="1" height="1"/><rect x="420" y="265" width="1" height="1"/><rect x="420" y="269" width="1" height="1"/><rect x="420" y="273" width="1" height="1"/><rect x="420" y="277" width="1" height="1"/><rect x="420" y="281" width="1" height="1"/><rect x="420" y="285" width="1" height="1"/><rect x="420" y="289" width="1" height="1"/><rect x="420" y="293" width="1" height="1"/><rect x="426" y="261" width="1" height="1"/><rect x="426" y="265" width="1" height="1"/><rect x="426" y="269" width="1" height="1"/><rect x="426" y="273" width="1" height="1"/><rect x="426" y="277" width="1" height="1"/><rect x="426" y="281" width="1" height="1"/><rect x="426" y="285" width="1" height="1"/><rect x="426" y="289" width="1" height="1"/><rect x="426" y="293" width="1" height="1"/><rect x="432" y="219" width="1" height="1"/><rect x="432" y="223" width="1" height="1"/><rect x="432" y="227" width="1" height="1"/><rect x="432" y="231" width="1" height="1"/><rect x="432" y="235" width="1" height="1"/><rect x="432" y="239" width="1" height="1"/><rect x="432" y="243" width="1" height="1"/><rect x="432" y="247" width="1" height="1"/><rect x="432" y="251" width="1" height="1"/><rect x="432" y="255" width="1" height="1"/><rect x="438" y="217" width="1" height="1"/><rect x="438" y="221" width="1" height="1"/><rect x="438" y="225" width="1" height="1"/><rect x="438" y="229" width="1" height="1"/><rect x="438" y="233" width="1" height="1"/><rect x="438" y="237" width="1" height="1"/><rect x="439" y="241" width="1" height="1"/><rect x="439" y="245" width="1" height="1"/><rect x="439" y="249" width="1" height="1"/><rect x="439" y="253" width="1" height="1"/><rect x="439" y="257" width="1" height="1"/><rect x="439" y="261" width="1" height="1"/><rect x="439" y="265" width="1" height="1"/><rect x="445" y="271" width="1" height="1"/><rect x="445" y="275" width="1" height="1"/><rect x="445" y="279" width="1" height="1"/><rect x="445" y="283" width="1" height="1"/><rect x="445" y="287" width="1" height="1"/><rect x="451" y="293" width="1" height="1"/><rect x="457" y="261" width="1" height="1"/><rect x="457" y="265" width="1" height="1"/><rect x="457" y="269" width="1" height="1"/><rect x="457" y="273" width="1" height="1"/><rect x="457" y="277" width="1" height="1"/><rect x="457" y="281" width="1" height="1"/><rect x="457" y="285" width="1" height="1"/><rect x="457" y="289" width="1" height="1"/><rect x="457" y="293" width="1" height="1"/><rect x="458" y="221" width="1" height="1"/><rect x="458" y="225" width="1" height="1"/><rect x="458" y="229" width="1" height="1"/><rect x="458" y="233" width="1" height="1"/><rect x="458" y="237" width="1" height="1"/><rect x="458" y="241" width="1" height="1"/><rect x="458" y="245" width="1" height="1"/><rect x="458" y="249" width="1" height="1"/><rect x="458" y="253" width="1" height="1"/><rect x="458" y="257" width="1" height="1"/><rect x="463" y="222" width="1" height="1"/><rect x="463" y="226" width="1" height="1"/><rect x="463" y="230" width="1" height="1"/><rect x="463" y="234" width="1" height="1"/><rect x="463" y="238" width="1" height="1"/><rect x="463" y="242" width="1" height="1"/><rect x="463" y="246" width="1" height="1"/><rect x="463" y="250" width="1" height="1"/><rect x="464" y="254" width="1" height="1"/><rect x="464" y="258" width="1" height="1"/><rect x="464" y="262" width="1" height="1"/><rect x="464" y="266" width="1" height="1"/><rect x="464" y="270" width="1" height="1"/><rect x="464" y="274" width="1" height="1"/><rect x="464" y="278" width="1" height="1"/><rect x="464" y="282" width="1" height="1"/><rect x="470" y="258" width="1" height="1"/><rect x="470" y="262" width="1" height="1"/><rect x="470" y="266" width="1" height="1"/><rect x="470" y="270" width="1" height="1"/><rect x="470" y="274" width="1" height="1"/><rect x="470" y="278" width="1" height="1"/><rect x="470" y="282" width="1" height="1"/><rect x="476" y="200" width="1" height="1"/><rect x="476" y="204" width="1" height="1"/><rect x="476" y="208" width="1" height="1"/><rect x="476" y="212" width="1" height="1"/><rect x="476" y="216" width="1" height="1"/><rect x="476" y="220" width="1" height="1"/><rect x="476" y="224" width="1" height="1"/><rect x="476" y="228" width="1" height="1"/><rect x="476" y="232" width="1" height="1"/><rect x="476" y="236" width="1" height="1"/><rect x="476" y="240" width="1" height="1"/><rect x="476" y="244" width="1" height="1"/><rect x="476" y="248" width="1" height="1"/><rect x="476" y="252" width="1" height="1"/><rect x="476" y="256" width="1" height="1"/><rect x="482" y="200" width="1" height="1"/><rect x="482" y="204" width="1" height="1"/><rect x="482" y="208" width="1" height="1"/><rect x="482" y="212" width="1" height="1"/><rect x="482" y="216" width="1" height="1"/><rect x="482" y="220" width="1" height="1"/><rect x="482" y="224" width="1" height="1"/><rect x="482" y="228" width="1" height="1"/><rect x="482" y="232" width="1" height="1"/><rect x="482" y="236" width="1" height="1"/><rect x="482" y="240" width="1" height="1"/><rect x="482" y="244" width="1" height="1"/><rect x="482" y="248" width="1" height="1"/><rect x="483" y="252" width="1" height="1"/><rect x="483" y="256" width="1" height="1"/><rect x="483" y="260" width="1" height="1"/><rect x="483" y="264" width="1" height="1"/><rect x="483" y="268" width="1" height="1"/><rect x="483" y="272" width="1" height="1"/><rect x="483" y="276" width="1" height="1"/><rect x="483" y="280" width="1" height="1"/><rect x="483" y="284" width="1" height="1"/><rect x="483" y="288" width="1" height="1"/><rect x="483" y="292" width="1" height="1"/><rect x="483" y="296" width="1" height="1"/><rect x="488" y="231" width="1" height="1"/><rect x="488" y="235" width="1" height="1"/><rect x="488" y="239" width="1" height="1"/><rect x="488" y="243" width="1" height="1"/><rect x="488" y="247" width="1" height="1"/><rect x="488" y="251" width="1" height="1"/><rect x="488" y="255" width="1" height="1"/><rect x="488" y="259" width="1" height="1"/><rect x="488" y="263" width="1" height="1"/><rect x="488" y="267" width="1" height="1"/><rect x="488" y="271" width="1" height="1"/><rect x="488" y="275" width="1" height="1"/><rect x="488" y="279" width="1" height="1"/><rect x="488" y="283" width="1" height="1"/><rect x="488" y="287" width="1" height="1"/><rect x="488" y="291" width="1" height="1"/><rect x="488" y="295" width="1" height="1"/><rect x="489" y="159" width="1" height="1"/><rect x="489" y="163" width="1" height="1"/><rect x="489" y="167" width="1" height="1"/><rect x="489" y="171" width="1" height="1"/><rect x="489" y="175" width="1" height="1"/><rect x="489" y="179" width="1" height="1"/><rect x="489" y="183" width="1" height="1"/><rect x="489" y="187" width="1" height="1"/><rect x="489" y="191" width="1" height="1"/><rect x="489" y="195" width="1" height="1"/><rect x="489" y="199" width="1" height="1"/><rect x="489" y="203" width="1" height="1"/><rect x="489" y="207" width="1" height="1"/><rect x="489" y="211" width="1" height="1"/><rect x="489" y="215" width="1" height="1"/><rect x="489" y="219" width="1" height="1"/><rect x="489" y="223" width="1" height="1"/><rect x="489" y="227" width="1" height="1"/><rect x="495" y="161" width="1" height="1"/><rect x="495" y="165" width="1" height="1"/><rect x="495" y="169" width="1" height="1"/><rect x="495" y="173" width="1" height="1"/><rect x="495" y="177" width="1" height="1"/><rect x="495" y="181" width="1" height="1"/><rect x="495" y="185" width="1" height="1"/><rect x="495" y="189" width="1" height="1"/><rect x="495" y="193" width="1" height="1"/><rect x="495" y="197" width="1" height="1"/><rect x="495" y="201" width="1" height="1"/><rect x="495" y="205" width="1" height="1"/><rect x="495" y="209" width="1" height="1"/><rect x="495" y="213" width="1" height="1"/><rect x="495" y="217" width="1" height="1"/><rect x="495" y="221" width="1" height="1"/><rect x="501" y="227" width="1" height="1"/><rect x="501" y="231" width="1" height="1"/><rect x="501" y="235" width="1" height="1"/><rect x="501" y="239" width="1" height="1"/><rect x="501" y="243" width="1" height="1"/><rect x="501" y="247" width="1" height="1"/><rect x="501" y="251" width="1" height="1"/><rect x="501" y="255" width="1" height="1"/><rect x="501" y="259" width="1" height="1"/><rect x="502" y="263" width="1" height="1"/><rect x="502" y="267" width="1" height="1"/><rect x="502" y="271" width="1" height="1"/><rect x="502" y="275" width="1" height="1"/><rect x="502" y="279" width="1" height="1"/><rect x="502" y="283" width="1" height="1"/><rect x="502" y="287" width="1" height="1"/><rect x="502" y="291" width="1" height="1"/><rect x="507" y="250" width="1" height="1"/><rect x="507" y="254" width="1" height="1"/><rect x="507" y="258" width="1" height="1"/><rect x="507" y="262" width="1" height="1"/><rect x="507" y="266" width="1" height="1"/><rect x="507" y="270" width="1" height="1"/><rect x="507" y="274" width="1" height="1"/><rect x="507" y="278" width="1" height="1"/><rect x="507" y="282" width="1" height="1"/><rect x="507" y="286" width="1" height="1"/><rect x="507" y="290" width="1" height="1"/><rect x="508" y="206" width="1" height="1"/><rect x="508" y="210" width="1" height="1"/><rect x="508" y="214" width="1" height="1"/><rect x="508" y="218" width="1" height="1"/><rect x="508" y="222" width="1" height="1"/><rect x="508" y="226" width="1" height="1"/><rect x="508" y="230" width="1" height="1"/><rect x="508" y="234" width="1" height="1"/><rect x="508" y="238" width="1" height="1"/><rect x="508" y="242" width="1" height="1"/><rect x="508" y="246" width="1" height="1"/><rect x="513" y="215" width="9" height="1"/></g>
<text x="183.8" y="29" font-size="17.4" fill="#000" text-anchor="start" textLength="100.2" lengthAdjust="spacingAndGlyphs">Hemispheric</text>
<text x="293.3" y="29" font-size="17.4" fill="#000" text-anchor="start" textLength="46.7" lengthAdjust="spacingAndGlyphs">Power</text>
<text x="350" y="28.9" font-size="19.8" fill="#000" text-anchor="start" font-weight="bold">[</text>
<text x="357.5" y="29" font-size="17.4" fill="#000" text-anchor="start" textLength="23" lengthAdjust="spacingAndGlyphs">GW</text>
<text x="381.0" y="28.9" font-size="19.8" fill="#000" text-anchor="start" font-weight="bold">]</text>
<text x="39.5" y="343" font-size="14.5" fill="#000" text-anchor="start" textLength="7.5" lengthAdjust="spacingAndGlyphs">0</text>
<text x="31" y="295" font-size="14.5" fill="#000" text-anchor="start" textLength="16" lengthAdjust="spacingAndGlyphs">10</text>
<text x="31" y="242" font-size="14.5" fill="#000" text-anchor="start" textLength="16" lengthAdjust="spacingAndGlyphs">20</text>
<text x="31" y="189" font-size="14.5" fill="#000" text-anchor="start" textLength="16" lengthAdjust="spacingAndGlyphs">30</text>
<text x="31" y="136" font-size="14.5" fill="#000" text-anchor="start" textLength="16" lengthAdjust="spacingAndGlyphs">40</text>
<text x="31" y="83" font-size="14.5" fill="#000" text-anchor="start" textLength="16" lengthAdjust="spacingAndGlyphs">50</text>
<g transform="translate(20,212) rotate(-90)">
<text x="0" y="0" font-size="14.5" fill="#000" text-anchor="start" textLength="8" lengthAdjust="spacingAndGlyphs">P</text>
<text x="15" y="-1" font-size="15.5" fill="#000" text-anchor="start" font-weight="bold">[</text>
<text x="21.5" y="0" font-size="14.5" fill="#000" text-anchor="start" textLength="20.5" lengthAdjust="spacingAndGlyphs">GW</text>
<text x="41.3" y="-1" font-size="15.5" fill="#000" text-anchor="start" font-weight="bold">]</text>
</g>
<text x="112.25" y="367" font-size="14.5" fill="#000" text-anchor="start" textLength="29.4" lengthAdjust="spacingAndGlyphs">0:00</text>
<text x="103.75" y="379" font-size="14.5" fill="#000" text-anchor="start" textLength="38.2" lengthAdjust="spacingAndGlyphs">Jan27</text>
<text x="181.25" y="367" font-size="14.5" fill="#000" text-anchor="start" textLength="36.4" lengthAdjust="spacingAndGlyphs">12:00</text>
<text x="179.15" y="379" font-size="14.5" fill="#000" text-anchor="start" textLength="38.2" lengthAdjust="spacingAndGlyphs">Jan27</text>
<text x="263.05000000000007" y="367" font-size="14.5" fill="#000" text-anchor="start" textLength="29.4" lengthAdjust="spacingAndGlyphs">0:00</text>
<text x="254.55000000000004" y="379" font-size="14.5" fill="#000" text-anchor="start" textLength="38.2" lengthAdjust="spacingAndGlyphs">Jan28</text>
<text x="332.05" y="367" font-size="14.5" fill="#000" text-anchor="start" textLength="36.4" lengthAdjust="spacingAndGlyphs">12:00</text>
<text x="329.95000000000005" y="379" font-size="14.5" fill="#000" text-anchor="start" textLength="38.2" lengthAdjust="spacingAndGlyphs">Jan28</text>
<text x="413.85" y="367" font-size="14.5" fill="#000" text-anchor="start" textLength="29.4" lengthAdjust="spacingAndGlyphs">0:00</text>
<text x="405.35" y="379" font-size="14.5" fill="#000" text-anchor="start" textLength="38.2" lengthAdjust="spacingAndGlyphs">Jan29</text>
<text x="482.84999999999997" y="367" font-size="14.5" fill="#000" text-anchor="start" textLength="36.4" lengthAdjust="spacingAndGlyphs">12:00</text>
<text x="480.75" y="379" font-size="14.5" fill="#000" text-anchor="start" textLength="38.2" lengthAdjust="spacingAndGlyphs">Jan29</text>
<text x="6.3" y="396" font-size="14.5" fill="#000" text-anchor="start" textLength="29.2" lengthAdjust="spacingAndGlyphs">Plot:</text>
<text x="42.5" y="396" font-size="14.5" fill="#000" text-anchor="start" textLength="36" lengthAdjust="spacingAndGlyphs">CCMC</text>
<text x="238.4" y="396" font-size="14.5" fill="#000" text-anchor="start" textLength="29.2" lengthAdjust="spacingAndGlyphs">Date</text>
<text x="274" y="396" font-size="14.5" fill="#000" text-anchor="start" textLength="23" lengthAdjust="spacingAndGlyphs">and</text>
<text x="303.8" y="396" font-size="14.5" fill="#000" text-anchor="start" textLength="29.8" lengthAdjust="spacingAndGlyphs">Time</text>
<text x="444" y="396" font-size="14.5" fill="#000" text-anchor="start" textLength="77.2" lengthAdjust="spacingAndGlyphs">2015/01/29</text>
<text x="528" y="396" font-size="14.5" fill="#000" text-anchor="start" textLength="50.5" lengthAdjust="spacingAndGlyphs">13:55:11</text>
<text x="526.5" y="57.5" font-size="14.5" fill="#000" text-anchor="start" textLength="32" lengthAdjust="spacingAndGlyphs">METP</text>
<text x="559.3" y="56.8" font-size="14.5" fill="#000" text-anchor="start" textLength="10.4" lengthAdjust="spacingAndGlyphs">—</text>
<text x="571" y="57.5" font-size="14.5" fill="#000" text-anchor="start" textLength="15.5" lengthAdjust="spacingAndGlyphs">02</text>
<text x="526.5" y="79" font-size="14.5" fill="#0020ff" text-anchor="start" textLength="33.3" lengthAdjust="spacingAndGlyphs" style="stroke-width:0.1px">NOAA</text>
<text x="559.3" y="78.3" font-size="14.5" fill="#0020ff" text-anchor="start" textLength="10.4" lengthAdjust="spacingAndGlyphs" style="stroke-width:0.1px">—</text>
<text x="571" y="79" font-size="14.5" fill="#0020ff" text-anchor="start" textLength="15.5" lengthAdjust="spacingAndGlyphs" style="stroke-width:0.1px">15</text>
<text x="526.5" y="100.5" font-size="14.5" fill="#00aaff" text-anchor="start" textLength="33.3" lengthAdjust="spacingAndGlyphs" style="stroke-width:0.1px">NOAA</text>
<text x="559.3" y="99.8" font-size="14.5" fill="#00aaff" text-anchor="start" textLength="10.4" lengthAdjust="spacingAndGlyphs" style="stroke-width:0.1px">—</text>
<text x="571" y="100.5" font-size="14.5" fill="#00aaff" text-anchor="start" textLength="15.5" lengthAdjust="spacingAndGlyphs" style="stroke-width:0.1px">16</text>
<text x="526.5" y="122" font-size="14.5" fill="#00ff55" text-anchor="start" textLength="33.3" lengthAdjust="spacingAndGlyphs" style="stroke-width:0.1px">NOAA</text>
<text x="559.3" y="121.3" font-size="14.5" fill="#00ff55" text-anchor="start" textLength="10.4" lengthAdjust="spacingAndGlyphs" style="stroke-width:0.1px">—</text>
<text x="571" y="122" font-size="14.5" fill="#00ff55" text-anchor="start" textLength="15.5" lengthAdjust="spacingAndGlyphs" style="stroke-width:0.1px">18</text>
<text x="526.5" y="143.5" font-size="14.5" fill="#ff8000" text-anchor="start" textLength="33.3" lengthAdjust="spacingAndGlyphs" style="stroke-width:0.1px">NOAA</text>
<text x="559.3" y="142.8" font-size="14.5" fill="#ff8000" text-anchor="start" textLength="10.4" lengthAdjust="spacingAndGlyphs" style="stroke-width:0.1px">—</text>
<text x="571" y="143.5" font-size="14.5" fill="#ff8000" text-anchor="start" textLength="15.5" lengthAdjust="spacingAndGlyphs" style="stroke-width:0.1px">19</text>
<text x="530.8" y="219.3" font-size="14.5" fill="#0050ff" text-anchor="start" textLength="10.4" lengthAdjust="spacingAndGlyphs" style="stroke-width:0.1px">—</text>
<text x="548" y="220" font-size="14.5" fill="#0050ff" text-anchor="start" textLength="47" lengthAdjust="spacingAndGlyphs" style="stroke-width:0.1px">Ovation</text>
<text x="527" y="232" font-size="14.5" fill="#0050ff" text-anchor="start" textLength="36.5" lengthAdjust="spacingAndGlyphs" style="stroke-width:0.1px">Prime</text>
<text x="571" y="232" font-size="14.5" fill="#0050ff" text-anchor="start" textLength="19.5" lengthAdjust="spacingAndGlyphs" style="stroke-width:0.1px">HPI</text>
<text x="526.3" y="314.3" font-size="17.5" fill="#000" text-anchor="start" textLength="9.6" lengthAdjust="spacingAndGlyphs">+</text>
<text x="543.5" y="312" font-size="14.5" fill="#000" text-anchor="start" textLength="35" lengthAdjust="spacingAndGlyphs">south</text>
<text x="525.3" y="347.7" font-size="19" fill="#000" text-anchor="start" textLength="8" lengthAdjust="spacingAndGlyphs">*</text>
<text x="539.5" y="342" font-size="14.5" fill="#000" text-anchor="start" textLength="33" lengthAdjust="spacingAndGlyphs">north</text>
</svg>
</body></html>
